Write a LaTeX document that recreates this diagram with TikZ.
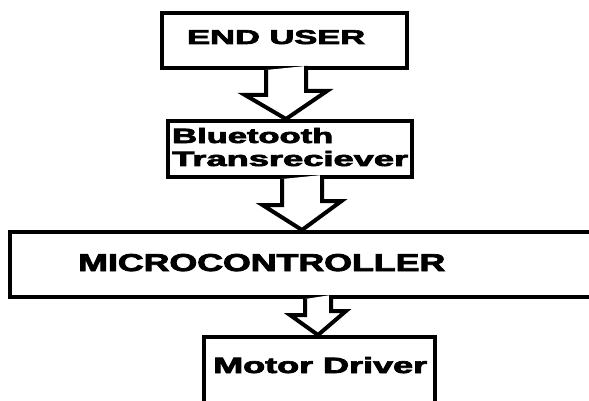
\documentclass[tikz,border=0pt]{standalone}
\usepackage{fontspec}
\setmainfont{Liberation Sans}[BoldFeatures={FakeBold=3}]
\usepackage{graphicx}
\usetikzlibrary{calc}
\begin{document}
\begin{tikzpicture}[x=1pt,y=-1pt,
  box/.style={draw,line width=4pt,minimum width=#1,inner sep=0pt},
  arr/.style={draw,line width=4pt,line join=miter,fill=white},
  lbl/.style={anchor=base west,inner sep=0pt,font=\bfseries}]
\useasboundingbox (0,0) rectangle (589,401);
\node[box=245pt,minimum height=55pt] (b1) at (284.5,40.5) {};
\node[box=244pt,minimum height=56pt] (b2) at (290,149) {};
\node[box=595pt,minimum height=65pt] (b3) at (307.5,264.5) {};
\node[box=231pt,minimum height=78pt] (b4) at (319.5,376) {};
\node[lbl] (t1) at (187,44) {\resizebox{178pt}{14pt}{END USER}};
\node[lbl] (t2a) at (172,143) {\resizebox{161pt}{15pt}{Bluetooth}};
\node[lbl] (t2b) at (172,166) {\resizebox{236pt}{15pt}{Transreciever}};
\node[lbl] (t3) at (78,271) {\resizebox{367pt}{17pt}{MICROCONTROLLER}};
\node[lbl] (t4) at (213,373) {\resizebox{214pt}{16pt}{Motor Driver}};
\coordinate (a1) at (286,0);
\coordinate (a2) at (302,0);
\coordinate (a3) at (318,0);
\draw[arr] (b1.south -| a1) ++(-20,0) -- ++(0,25) -- ++(-21,0) -- (b2.north -| a1)
  -- ++(41,-28) -- ++(-21,0) -- ++(0,-25);
\draw[arr] (b2.south -| a2) ++(-20,0) -- ++(0,26) -- ++(-19.5,0) -- (b3.north -| a2)
  -- ++(39.5,-29) -- ++(-19.5,0) -- ++(0,-26);
\draw[arr] (b3.south -| a3) ++(-13,0) -- ++(0,16) -- ++(-15,0) -- (b4.north -| a3)
  -- ++(28,-24) -- ++(-15,0) -- ++(0,-16);
\end{tikzpicture}
\end{document}
